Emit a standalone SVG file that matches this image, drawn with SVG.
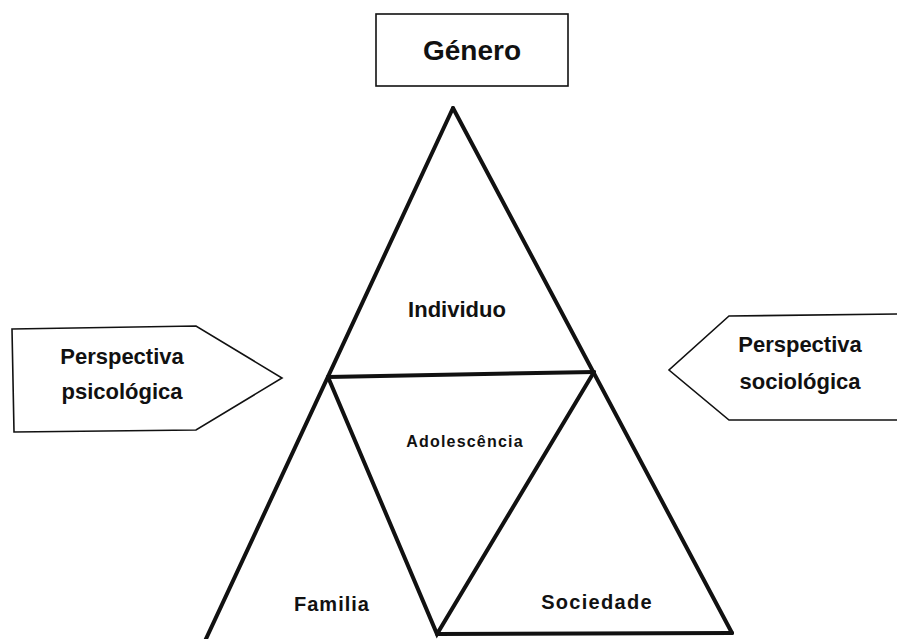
<svg xmlns="http://www.w3.org/2000/svg" width="897" height="639" viewBox="0 0 897 639">
<style>
  .box { fill: #fff; stroke: #111; stroke-width: 1.6; }
  .tri { fill: none; stroke: #111; stroke-width: 4; stroke-linejoin: miter; stroke-linecap: round; }
  text { font-family: "Liberation Sans", Arial, sans-serif; font-weight: bold; fill: #111; text-anchor: middle; }
  .t20 { font-size: 22px; }
</style>
<rect width="897" height="639" fill="#fff"/>
<g id="connectors">
  <line class="tri" x1="453" y1="108" x2="205" y2="641"/>
  <line class="tri" x1="453" y1="108" x2="732" y2="633"/>
  <line class="tri" x1="328" y1="377" x2="594" y2="372"/>
  <polyline class="tri" points="328,377 437,634 594,372"/>
  <line class="tri" x1="437" y1="634" x2="732" y2="633"/>
</g>
<g id="genero">
  <rect class="box" x="376" y="14" width="192" height="72"/>
  <text x="472" y="60" style="font-size:28px">Género</text>
</g>
<g id="psicologica">
  <polygon class="box" points="12,329 196,326 282,378 196,430 14,432"/>
  <text class="t20" x="122" y="364">Perspectiva</text>
  <text class="t20" x="122" y="399">psicológica</text>
</g>
<g id="sociologica">
  <polygon class="box" points="899,314 729,316 669,370 729,420 899,420"/>
  <text class="t20" x="800" y="352">Perspectiva</text>
  <text class="t20" x="800" y="389">sociológica</text>
</g>
<g id="individuo">
  <text x="457" y="317" style="font-size:22px">Individuo</text>
</g>
<g id="adolescencia">
  <text x="465" y="447" style="font-size:16px;letter-spacing:1.2px">Adolescência</text>
</g>
<g id="familia">
  <text x="332" y="611" style="font-size:20px;letter-spacing:1px">Familia</text>
</g>
<g id="sociedade">
  <text x="597" y="609" style="font-size:20px;letter-spacing:1.3px">Sociedade</text>
</g>
</svg>
